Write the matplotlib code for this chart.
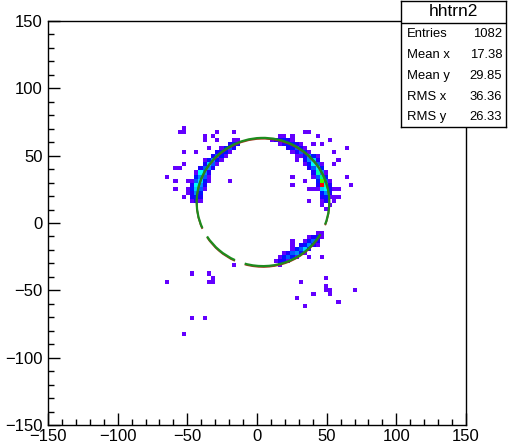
import colorsys
import numpy as np
import matplotlib
matplotlib.use('Agg')
import matplotlib.pyplot as plt
from matplotlib.colors import ListedColormap, Normalize
from matplotlib.patches import Arc
from matplotlib.ticker import MultipleLocator

plt.rcParams['font.family'] = ['Liberation Sans', 'DejaVu Sans']

# populated cells of hhtrn2: (x bin centre, y bin centre, entries)
left_arc = [
    (-46.5, 16.5, 1), (-43.5, 16.5, 2), (-40.5, 16.5, 1),
    (-46.5, 19.5, 2), (-43.5, 19.5, 3), (-40.5, 19.5, 2),
    (-49.5, 22.5, 1), (-46.5, 22.5, 2), (-43.5, 22.5, 5), (-40.5, 22.5, 3),
    (-49.5, 25.5, 1), (-46.5, 25.5, 3), (-43.5, 25.5, 6), (-40.5, 25.5, 4), (-37.5, 25.5, 1),
    (-46.5, 28.5, 2), (-43.5, 28.5, 7), (-40.5, 28.5, 5), (-37.5, 28.5, 2),
    (-46.5, 31.5, 1), (-43.5, 31.5, 4), (-40.5, 31.5, 6), (-37.5, 31.5, 3), (-34.5, 31.5, 1),
    (-43.5, 34.5, 3), (-40.5, 34.5, 5), (-37.5, 34.5, 4), (-34.5, 34.5, 1),
    (-43.5, 37.5, 1), (-40.5, 37.5, 7), (-37.5, 37.5, 5), (-34.5, 37.5, 2),
    (-40.5, 40.5, 2), (-37.5, 40.5, 4), (-34.5, 40.5, 5), (-31.5, 40.5, 2),
    (-37.5, 43.5, 2), (-34.5, 43.5, 6), (-31.5, 43.5, 4), (-28.5, 43.5, 1),
    (-37.5, 46.5, 1), (-34.5, 46.5, 3), (-31.5, 46.5, 5), (-28.5, 46.5, 3), (-25.5, 46.5, 1),
    (-31.5, 49.5, 2), (-28.5, 49.5, 4), (-25.5, 49.5, 3), (-22.5, 49.5, 1),
    (-28.5, 52.5, 2), (-25.5, 52.5, 3), (-22.5, 52.5, 3), (-19.5, 52.5, 1),
    (-25.5, 55.5, 1), (-22.5, 55.5, 3), (-19.5, 55.5, 4), (-16.5, 55.5, 2),
    (-19.5, 58.5, 2), (-16.5, 58.5, 3), (-13.5, 58.5, 2),
    (-16.5, 61.5, 1), (-13.5, 61.5, 1),
]

left_scatter = [
    (-52.5, 70.5, 1), (-55.5, 67.5, 1), (-52.5, 67.5, 1), (-28.5, 67.5, 1),
    (-37.5, 64.5, 1), (-31.5, 64.5, 1), (-28.5, 61.5, 1), (-16.5, 67.5, 1),
    (-37.5, 61.5, 1), (-34.5, 55.5, 1), (-52.5, 52.5, 1), (-43.5, 52.5, 1),
    (-52.5, 43.5, 1), (-58.5, 40.5, 1), (-55.5, 40.5, 1), (-64.5, 34.5, 1),
    (-19.5, 31.5, 1), (-58.5, 31.5, 1), (-49.5, 31.5, 1), (-58.5, 25.5, 1),
    (-52.5, 19.5, 1),
]

right_arc = [
    (16.5, 64.5, 1), (19.5, 64.5, 1), (25.5, 64.5, 1),
    (10.5, 61.5, 1), (13.5, 61.5, 2), (16.5, 61.5, 2), (19.5, 61.5, 3), (22.5, 61.5, 2), (25.5, 61.5, 1),
    (16.5, 58.5, 1), (19.5, 58.5, 2), (22.5, 58.5, 3), (25.5, 58.5, 3), (28.5, 58.5, 2), (31.5, 58.5, 1),
    (22.5, 55.5, 2), (25.5, 55.5, 3), (28.5, 55.5, 4), (31.5, 55.5, 2), (34.5, 55.5, 1),
    (25.5, 52.5, 1), (28.5, 52.5, 2), (31.5, 52.5, 4), (34.5, 52.5, 3), (37.5, 52.5, 1),
    (31.5, 49.5, 1), (34.5, 49.5, 3), (37.5, 49.5, 5), (40.5, 49.5, 3), (43.5, 49.5, 1),
    (34.5, 46.5, 2), (37.5, 46.5, 5), (40.5, 46.5, 6), (43.5, 46.5, 2),
    (34.5, 43.5, 1), (37.5, 43.5, 3), (40.5, 43.5, 7), (43.5, 43.5, 4), (46.5, 43.5, 1),
    (37.5, 40.5, 2), (40.5, 40.5, 4), (43.5, 40.5, 7), (46.5, 40.5, 3),
    (40.5, 37.5, 2), (43.5, 37.5, 8), (46.5, 37.5, 5), (49.5, 37.5, 1),
    (40.5, 34.5, 1), (43.5, 34.5, 4), (46.5, 34.5, 9), (49.5, 34.5, 3),
    (43.5, 31.5, 3), (46.5, 31.5, 12), (49.5, 31.5, 4), (52.5, 31.5, 1),
    (43.5, 28.5, 2), (46.5, 28.5, 20), (49.5, 28.5, 8), (52.5, 28.5, 2),
    (43.5, 25.5, 1), (46.5, 25.5, 6), (49.5, 25.5, 7), (52.5, 25.5, 2),
    (46.5, 22.5, 3), (49.5, 22.5, 5), (52.5, 22.5, 2),
    (46.5, 19.5, 2), (49.5, 19.5, 3), (52.5, 19.5, 1),
    (46.5, 16.5, 1), (49.5, 16.5, 2),
]

right_scatter = [
    (34.5, 67.5, 1), (37.5, 67.5, 1), (43.5, 64.5, 1), (52.5, 61.5, 1),
    (46.5, 58.5, 1), (64.5, 55.5, 1), (58.5, 46.5, 1), (55.5, 43.5, 1),
    (67.5, 28.5, 1), (64.5, 34.5, 1), (25.5, 34.5, 1), (25.5, 28.5, 1),
    (34.5, 31.5, 1), (40.5, 25.5, 1), (37.5, 25.5, 1), (55.5, 25.5, 1),
    (58.5, 25.5, 1), (58.5, 19.5, 1), (37.5, 16.5, 1), (55.5, 19.5, 1),
    (40.5, 58.5, 1), (28.5, 49.5, 1), (28.5, 46.5, 1), (55.5, 52.5, 1),
    (49.5, 10.5, 1), (46.5, 13.5, 1), (52.5, 13.5, 1), (55.5, 16.5, 1),
]

bottom_arc = [
    (43.5, -7.5, 1), (46.5, -7.5, 1),
    (37.5, -10.5, 1), (40.5, -10.5, 2), (43.5, -10.5, 3), (46.5, -10.5, 1),
    (34.5, -13.5, 1), (37.5, -13.5, 3), (40.5, -13.5, 4), (43.5, -13.5, 2),
    (31.5, -16.5, 2), (34.5, -16.5, 3), (37.5, -16.5, 5), (40.5, -16.5, 2), (43.5, -16.5, 1),
    (25.5, -19.5, 1), (28.5, -19.5, 3), (31.5, -19.5, 4), (34.5, -19.5, 6), (37.5, -19.5, 2),
    (19.5, -22.5, 1), (22.5, -22.5, 2), (25.5, -22.5, 4), (28.5, -22.5, 5), (31.5, -22.5, 3), (34.5, -22.5, 1),
    (16.5, -25.5, 1), (19.5, -25.5, 3), (22.5, -25.5, 4), (25.5, -25.5, 3), (28.5, -25.5, 1),
    (13.5, -28.5, 1), (16.5, -28.5, 2), (19.5, -28.5, 2), (22.5, -28.5, 1),
]

loose_cells = [
    (25.5, -13.5, 1), (25.5, -16.5, 1), (46.5, -25.5, 1), (37.5, -25.5, 1),
    (16.5, -31.5, 1), (-16.5, -31.5, 1),
    (-46.5, -37.5, 1), (-34.5, -37.5, 1), (-31.5, -40.5, 1), (-34.5, -43.5, 1),
    (-31.5, -43.5, 1), (-64.5, -43.5, 1),
    (31.5, -43.5, 1), (49.5, -40.5, 1), (49.5, -46.5, 1), (49.5, -49.5, 1),
    (52.5, -49.5, 1), (52.5, -52.5, 1), (70.5, -49.5, 1), (28.5, -55.5, 1),
    (40.5, -52.5, 1), (34.5, -61.5, 1), (58.5, -58.5, 1),
    (-46.5, -70.5, 1), (-37.5, -70.5, 1), (-52.5, -82.5, 1),
]

stat_names = ['Entries', 'Mean x', 'Mean y', 'RMS x', 'RMS y']
stat_values = ['1082', '17.38', '29.85', '36.36', '26.33']

# fitted ring drawn over the histogram: centre, radius, and the drawn arc pieces (deg)
ring_x, ring_y, ring_r = 4.3, 15.6, 47.6
ring_pieces = [(212.5, 245.0), (254.0, 330.0), (339.5, 564.0)]

cells = np.array(left_arc + left_scatter + right_arc + right_scatter + bottom_arc + loose_cells, dtype=float)
edges = np.linspace(-150, 150, 101)
H, _, _ = np.histogram2d(cells[:, 0], cells[:, 1], bins=[edges, edges], weights=cells[:, 2])
H = np.ma.masked_equal(H, 0)

# ROOT "pretty" palette: violet -> red in HLS hue
pal = [colorsys.hls_to_rgb((280 - (i + 1) * 280 / 50) / 360, 0.5, 1.0) for i in range(50)]
cmap = ListedColormap(pal)

fig = plt.figure(figsize=(5.08, 4.46), dpi=100)
ax = fig.add_axes([48 / 508, 21 / 446, 418 / 508, 404 / 446])
ax.pcolormesh(edges, edges, H.T, cmap=cmap, norm=Normalize(0, H.max()), shading='flat')

for t1, t2 in ring_pieces:
    ax.add_patch(Arc((ring_x, ring_y - 0.6), 2 * ring_r, 2 * ring_r, theta1=t1, theta2=t2,
                     color='#a8321a', lw=1.3, zorder=3))
    ax.add_patch(Arc((ring_x, ring_y), 2 * ring_r, 2 * ring_r, theta1=t1, theta2=t2,
                     color='#1e8c1e', lw=1.6, zorder=4))

ax.set_xlim(-150, 150)
ax.set_ylim(-150, 150)
ax.xaxis.set_major_locator(MultipleLocator(50))
ax.yaxis.set_major_locator(MultipleLocator(50))
ax.xaxis.set_minor_locator(MultipleLocator(10))
ax.yaxis.set_minor_locator(MultipleLocator(10))
ax.tick_params(which='both', direction='in', top=False, right=False, labelsize=12, width=1)
ax.tick_params(which='major', length=8.5)
ax.tick_params(which='minor', length=4.3)
ax.tick_params(axis='x', pad=3)
ax.tick_params(axis='y', pad=4)
for s in ax.spines.values():
    s.set_linewidth(1)

# statistics box
sb = fig.add_axes([401 / 508, (446 - 127) / 446, 105 / 508, 126 / 446])
sb.set_xlim(0, 1)
sb.set_ylim(0, 1)
sb.set_xticks([])
sb.set_yticks([])
sb.set_facecolor('white')
for s in sb.spines.values():
    s.set_linewidth(1)
sb.axhline(0.825, color='black', lw=1)
sb.text(0.5, 0.913, 'hhtrn2', ha='center', va='center', fontsize=12.5)
row_y = [0.742, 0.571, 0.405, 0.238, 0.079]
for name, val, yy in zip(stat_names, stat_values, row_y):
    sb.text(0.055, yy, name, ha='left', va='center', fontsize=9.4)
    sb.text(0.965, yy, val, ha='right', va='center', fontsize=9.4)

fig.savefig('out.png', dpi=100)
